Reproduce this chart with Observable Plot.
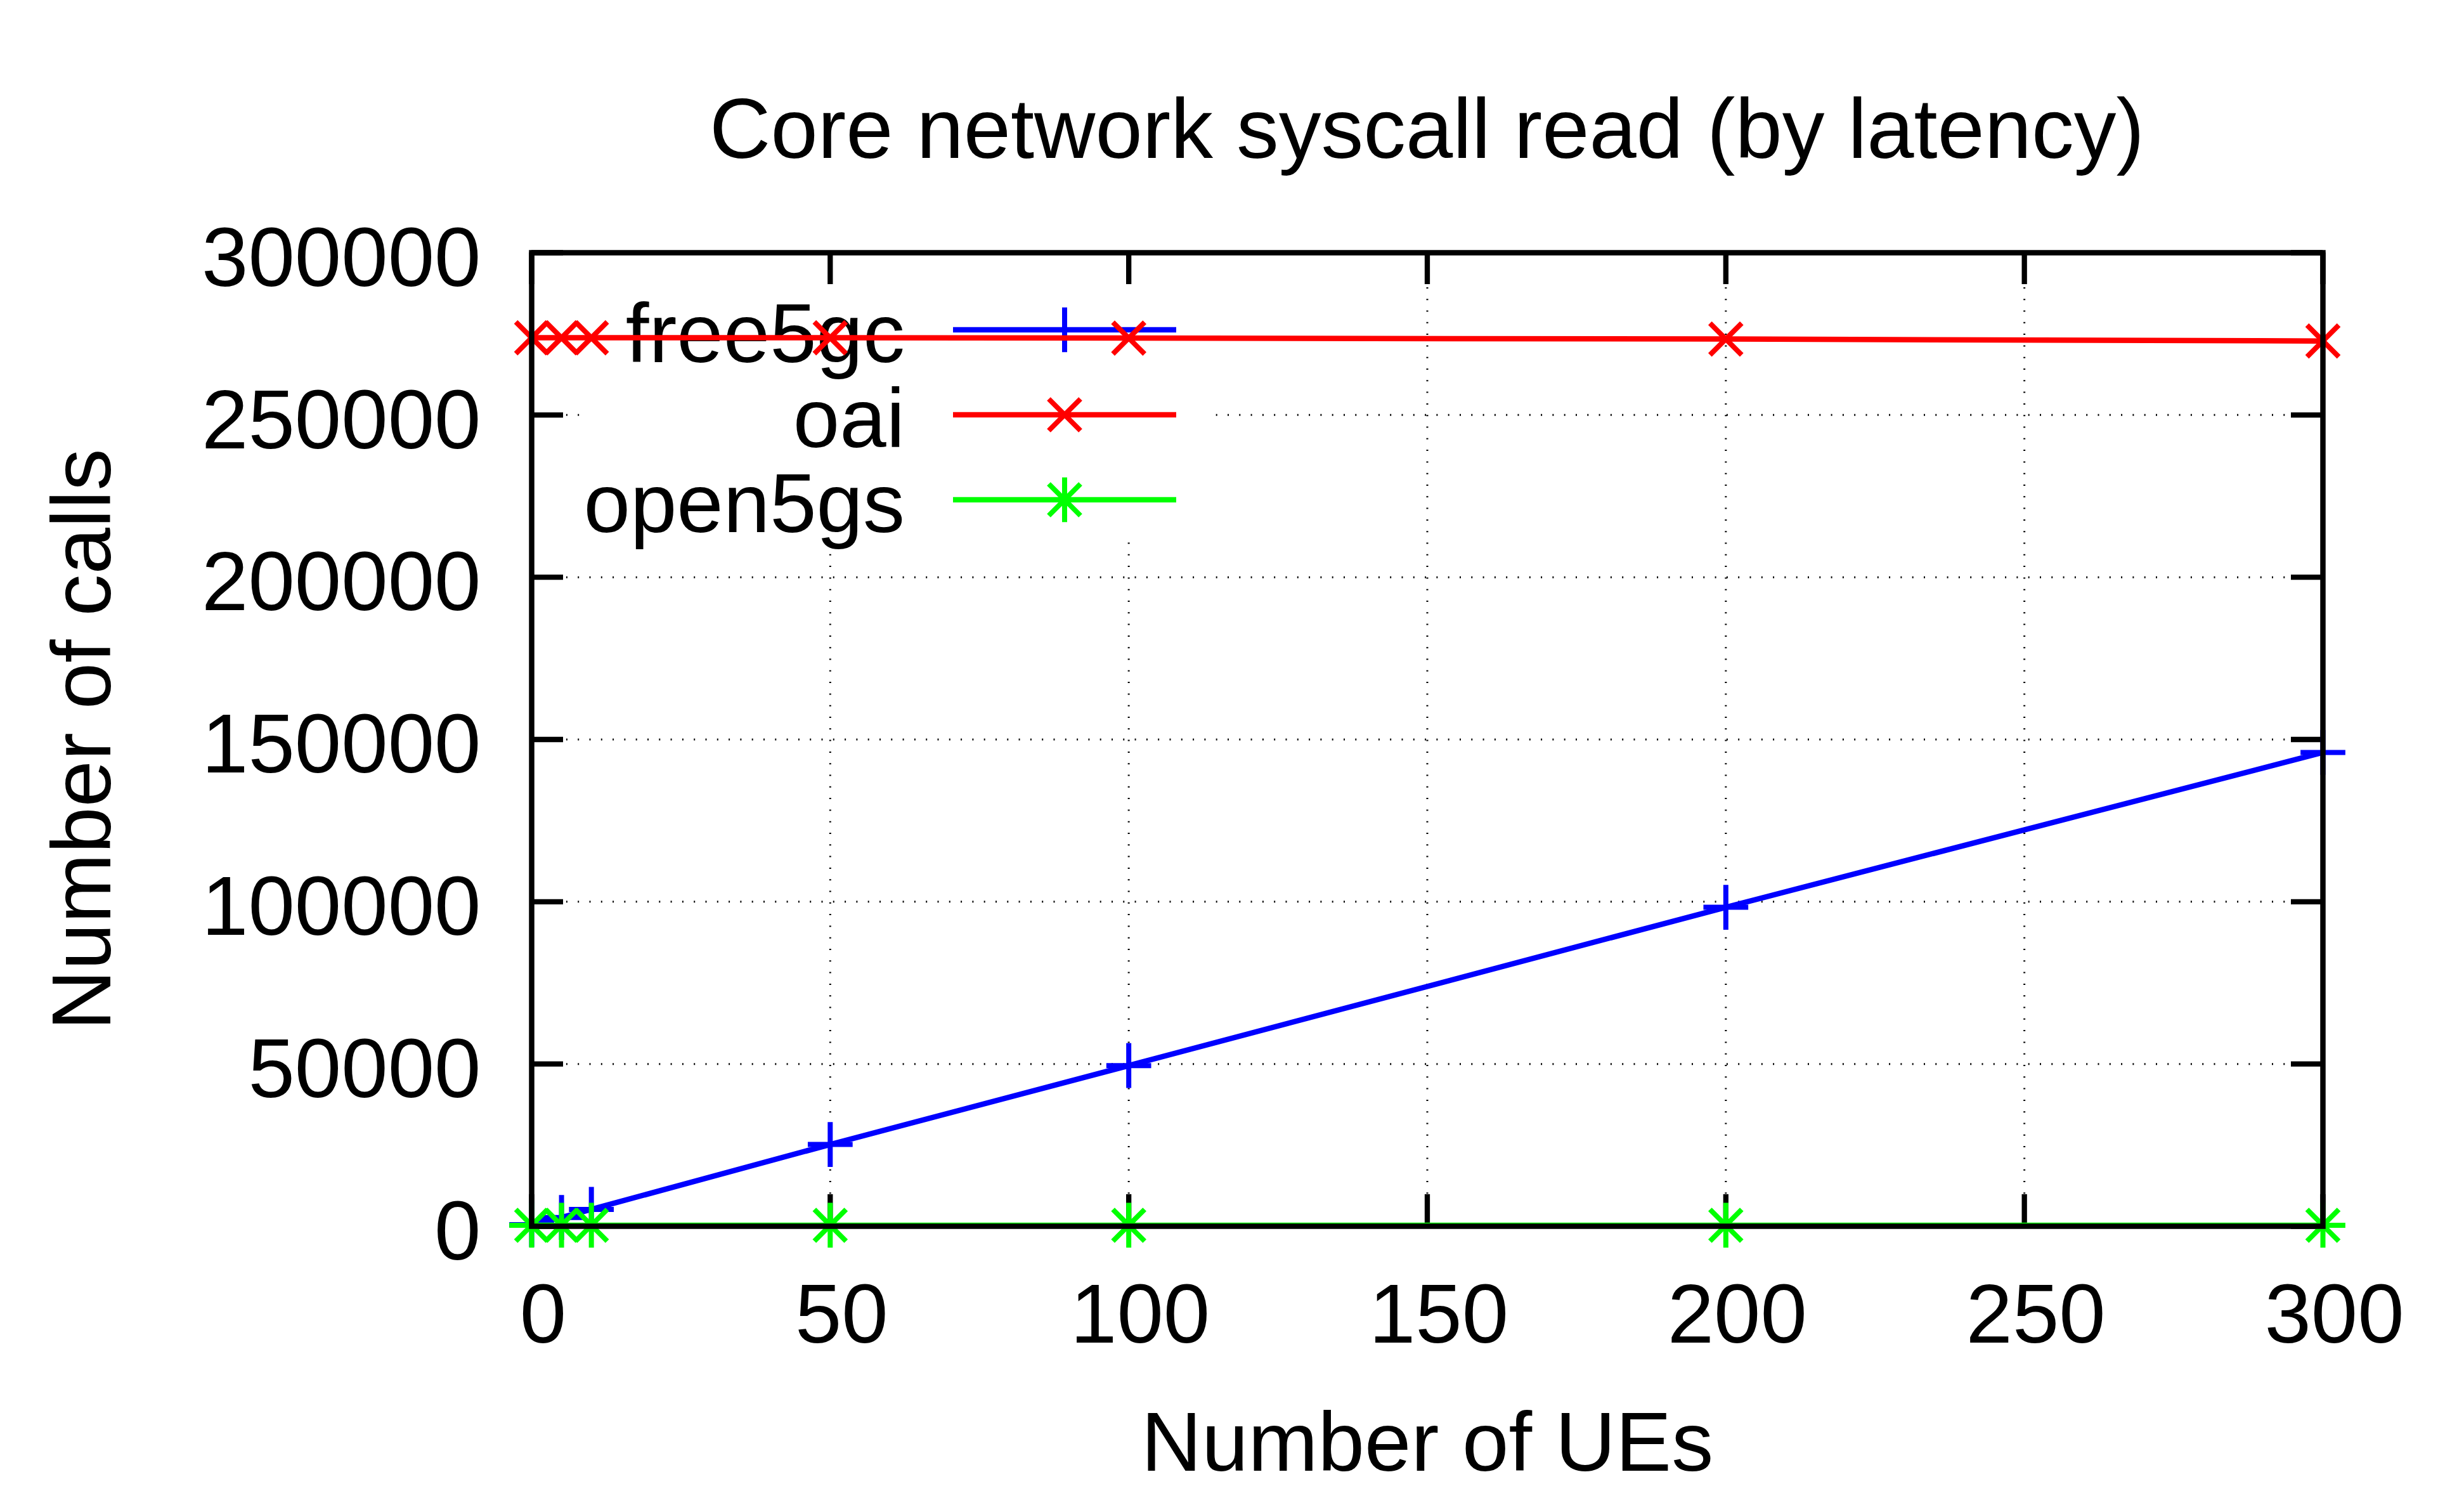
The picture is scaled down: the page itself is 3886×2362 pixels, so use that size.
<!DOCTYPE html>
<html><head><meta charset="utf-8">
<script src="https://cdn.jsdelivr.net/npm/d3@7"></script>
<script src="https://cdn.jsdelivr.net/npm/@observablehq/plot@0.6"></script>
<style>
body{margin:0;background:#fff;}
#wrap{position:relative;width:3886px;height:2362px;background:#fff;font-family:"Liberation Sans",Arial,Helvetica,sans-serif;overflow:hidden;}
#title{position:absolute;left:838px;width:2825px;top:136px;text-align:center;font-size:133.5px;line-height:133.5px;color:#000;white-space:nowrap;}
#chart{position:absolute;left:0;top:330px;}
</style></head><body>
<div id="wrap"><div id="title"></div><div id="chart"></div></div>
<script>
// ---- data ----
const titleText = "Core network syscall read (by latency)";
const xLabel = "Number of UEs";
const yLabel = "Number of calls";
const ues = [0, 5, 10, 50, 100, 200, 300];
const free5gc = [500, 2700, 5200, 25200, 49500, 98300, 146000];
const oai = [273800, 273800, 273800, 273800, 273700, 273400, 272800];
const open5gs = [300, 300, 300, 300, 300, 300, 300];
const seriesNames = ["free5gc", "oai", "open5gs"];
const seriesColors = ["#0000ff", "#ff0000", "#00ff00"];
const seriesSymbols = [["plus"], ["times"], ["plus", "times"]];
const xTicks = [0, 50, 100, 150, 200, 250, 300];
const yTicks = [0, 50000, 100000, 150000, 200000, 250000, 300000];

document.getElementById("title").textContent = titleText;

const valuesBySeries = [free5gc, oai, open5gs];
const rows = [];
seriesNames.forEach((s, si) => ues.forEach((u, i) => rows.push({series: s, x: u, y: valuesBySeries[si][i]})));

const W = 3886, H = 2032;
const mL = 838, mR = 223, mT = 68, mB = 429;
const fW = W - mL - mR, fH = H - mT - mB;
const FS = 132, R = 22.8, LW = 8.5, PW = 8, TL = 50;
const symMap = {plus: d3.symbolPlus, times: d3.symbolTimes};

// legend layout (pixels, relative to frame)
const LG = {boxL: 77, boxR: 1068, boxB: 456, row0: 122, rowGap: 134, textR: 589, lineL: 665, lineR: 1017};

function legendBox(index, scales, values, dims) {
  const g = d3.create("svg:g");
  g.append("rect")
    .attr("x", dims.marginLeft + LG.boxL).attr("y", dims.marginTop)
    .attr("width", LG.boxR - LG.boxL).attr("height", LG.boxB)
    .attr("fill", "white");
  return g.node();
}
function legendItems(index, scales, values, dims) {
  const g = d3.create("svg:g");
  seriesNames.forEach((name, i) => {
    const y = dims.marginTop + LG.row0 + i * LG.rowGap;
    g.append("text").attr("x", dims.marginLeft + LG.textR).attr("y", y)
      .attr("dy", "0.385em").attr("text-anchor", "end")
      .attr("font-size", FS).attr("fill", "black").text(name);
    g.append("line").attr("x1", dims.marginLeft + LG.lineL).attr("x2", dims.marginLeft + LG.lineR)
      .attr("y1", y).attr("y2", y).attr("stroke", seriesColors[i]).attr("stroke-width", LW);
    const cx = dims.marginLeft + (LG.lineL + LG.lineR) / 2;
    seriesSymbols[i].forEach(sym => {
      g.append("path").attr("transform", `translate(${cx},${y})`)
        .attr("d", d3.symbol(symMap[sym], R * R * Math.PI)())
        .attr("fill", "none").attr("stroke", seriesColors[i]).attr("stroke-width", PW);
    });
  });
  return g.node();
}

const dataMarks = [];
seriesNames.forEach((name, i) => {
  const d = rows.filter(r => r.series === name);
  dataMarks.push(Plot.line(d, {x: "x", y: "y", stroke: seriesColors[i], strokeWidth: LW, strokeLinejoin: "miter", strokeLinecap: "butt"}));
  seriesSymbols[i].forEach(sym => {
    dataMarks.push(Plot.dot(d, {x: "x", y: "y", symbol: sym, r: R, fill: "none", stroke: seriesColors[i], strokeWidth: PW}));
  });
});

const gridStyle = {stroke: "black", strokeOpacity: 1, strokeWidth: 3, strokeDasharray: "2,16.3"};

const chart = Plot.plot({
  width: W, height: H,
  marginLeft: mL, marginRight: mR, marginTop: mT, marginBottom: mB,
  style: {fontFamily: '"Liberation Sans", Arial, Helvetica, sans-serif', background: "white", color: "black", overflow: "visible"},
  x: {domain: [0, 300]},
  y: {domain: [0, 300000]},
  marks: [
    Plot.gridX({ticks: xTicks, ...gridStyle}),
    Plot.gridY({ticks: yTicks, ...gridStyle}),
    legendBox,
    Plot.tickX(xTicks, {x: d => d, stroke: "black", strokeWidth: 8.3, insetTop: fH - TL}),
    Plot.tickX(xTicks, {x: d => d, stroke: "black", strokeWidth: 8.3, insetBottom: fH - TL}),
    Plot.tickY(yTicks, {y: d => d, stroke: "black", strokeWidth: 8.3, insetRight: fW - TL}),
    Plot.tickY(yTicks, {y: d => d, stroke: "black", strokeWidth: 8.3, insetLeft: fW - TL}),
    Plot.axisX({ticks: xTicks, tickSize: 0, tickPadding: 90, dx: 18, fontSize: FS, label: null, tickFormat: d => String(d)}),
    Plot.axisY({ticks: yTicks, tickSize: 0, tickPadding: 80, dy: 10, fontSize: FS, label: null, tickFormat: d => String(d)}),
    Plot.text([xLabel], {text: d => d, frameAnchor: "bottom", textAnchor: "middle", lineAnchor: "middle", dy: 343, fontSize: FS, fill: "black"}),
    Plot.text([yLabel], {text: d => d, frameAnchor: "left", textAnchor: "middle", lineAnchor: "middle", rotate: -90, dx: -707, fontSize: FS, fill: "black"}),
    legendItems,
    ...dataMarks,
    Plot.frame({stroke: "black", strokeWidth: 8.5})
  ]
});
document.getElementById("chart").appendChild(chart);
</script>
</body></html>
